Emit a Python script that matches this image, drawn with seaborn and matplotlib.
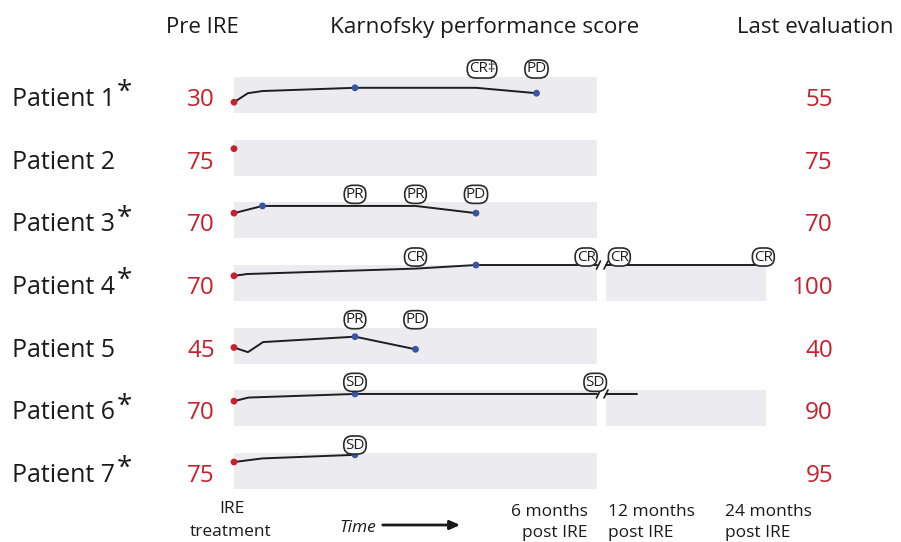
import numpy as np
import pandas as pd
import matplotlib
matplotlib.use("Agg")
import matplotlib.pyplot as plt
from matplotlib.patches import Rectangle
import seaborn as sns

# ---------------- data ----------------
patients = ["Patient 1", "Patient 2", "Patient 3", "Patient 4", "Patient 5", "Patient 6", "Patient 7"]
asterisk = [True, False, True, True, False, True, True]
pre_ire = [30, 75, 70, 70, 45, 70, 75]
last_eval = [55, 75, 70, 100, 40, 90, 95]

# Karnofsky trajectories (months after IRE, score)
p1_t, p1_s = [0, 0.23, 0.47, 2, 4, 5], [30, 55, 61, 70, 70, 55]
p2_t, p2_s = [0], [75]
p3_t, p3_s = [0, 0.47, 3, 4], [70, 90, 90, 70]
p4_t, p4_s = [0, 0.22, 3, 4, 6], [70, 75, 90, 100, 100]
p4_t2, p4_s2 = [12, 24], [100, 100]
p5_t, p5_s = [0, 0.23, 0.48, 2, 3], [45, 32, 60, 75, 40]
p6_t, p6_s = [0, 0.24, 2, 6], [70, 80, 90, 90]
p6_t2, p6_s2 = [12, 14.3], [90, 90]
p7_t, p7_s = [0, 0.47, 2], [75, 85, 95]

# evaluation (blue) points: patient index, month
eval_patient = [0, 0, 2, 2, 3, 4, 4, 5, 6]
eval_month = [2, 5, 0.47, 4, 4, 2, 3, 2, 2]

# response labels: patient index, month, label
resp_patient = [0, 0, 2, 2, 2, 3, 3, 3, 3, 4, 4, 5, 5, 6]
resp_month = [4.1, 5, 2, 3, 4, 3, 5.82, 13, 23.8, 2, 3, 2, 5.97, 2]
resp_label = ["CR‡", "PD", "PR", "PR", "PD", "CR", "CR", "CR", "CR", "PR", "PD", "SD", "SD", "SD"]

# which rows have a long-term (12-24 months) panel
long_rows = [3, 5]

# --------------- layout helpers ---------------
W, H = 901, 542
X0_PX, MONTH_PX = 234, 60.5
ROW0_PX, ROW_PX, BAND_PX = 77, 62.67, 36
BAND = BAND_PX / ROW_PX
SEG2_START = (606 - X0_PX) / MONTH_PX
SEG2_SCALE = (160 / 12) / MONTH_PX


def xdisp(m):
    m = np.asarray(m, dtype=float)
    return np.where(m <= 6.5, m, SEG2_START + (m - 12) * SEG2_SCALE)


def yrow(i, s):
    return i + (1 - np.asarray(s, dtype=float) / 100.0) * BAND


def fx(px):
    return px / W


def fy(py):
    return 1 - py / H


sns.set_theme(style="white")
plt.rcParams["font.family"] = ["Open Sans", "DejaVu Sans"]

fig = plt.figure(figsize=(W / 100, H / 100), dpi=100)
ax = fig.add_axes([0, 0, 1, 1])
ax.set_xlim(-X0_PX / MONTH_PX, (W - X0_PX) / MONTH_PX)
ax.set_ylim((H - ROW0_PX) / ROW_PX, -ROW0_PX / ROW_PX)
ax.axis("off")

RED = "#c8202c"
BLUE = "#3b55a6"
GRAY = "#ececf0"
INK = "#1a1a1a"

# bands
for i in range(len(patients)):
    ax.add_patch(Rectangle((0, i), 6, BAND, facecolor=GRAY, edgecolor="none", zorder=0))
for i in long_rows:
    x0 = float(xdisp(12))
    x1 = float(xdisp(24))
    ax.add_patch(Rectangle((x0, i), x1 - x0, BAND, facecolor=GRAY, edgecolor="none", zorder=0))

# build long table of lines
segments = [
    (0, p1_t, p1_s), (1, p2_t, p2_s), (2, p3_t, p3_s), (3, p4_t, p4_s), (3, p4_t2, p4_s2),
    (4, p5_t, p5_s), (5, p6_t, p6_s), (5, p6_t2, p6_s2), (6, p7_t, p7_s),
]
rows = []
for sid, (pi, t, s) in enumerate(segments):
    for k, (tt, ss) in enumerate(zip(t, s)):
        rows.append(dict(seg=sid, order=k, x=float(xdisp(tt)), y=float(yrow(pi, ss))))
df = pd.DataFrame(rows)
df_lines = df.groupby("seg").filter(lambda g: len(g) > 1)
sns.lineplot(data=df_lines, x="x", y="y", units="seg", estimator=None, sort=False,
             color="#1e1e1e", lw=1.4, ax=ax, zorder=2, legend=False)

# red start points
traj = {0: (p1_t, p1_s), 1: (p2_t, p2_s), 2: (p3_t, p3_s), 3: (p4_t, p4_s),
        4: (p5_t, p5_s), 5: (p6_t, p6_s), 6: (p7_t, p7_s)}
start_df = pd.DataFrame(dict(x=[0.0] * len(patients),
                             y=[float(yrow(i, pre_ire[i])) for i in range(len(patients))]))
sns.scatterplot(data=start_df, x="x", y="y", color=RED, s=24, edgecolor="none", ax=ax, zorder=3)

ev_x, ev_y = [], []
for pi, m in zip(eval_patient, eval_month):
    t, s = traj[pi]
    ev_x.append(float(xdisp(m)))
    ev_y.append(float(yrow(pi, np.interp(m, t, s))))
sns.scatterplot(x=ev_x, y=ev_y, color=BLUE, s=24, edgecolor="none", ax=ax, zorder=3)

# break marks
dxs = 2 / MONTH_PX
dys = 4 / ROW_PX
for i, sc in zip(long_rows, [100, 90]):
    yy = float(yrow(i, sc))
    for xb in [6.0 + 1.5 / MONTH_PX, SEG2_START]:
        ax.plot([xb - dxs, xb + dxs], [yy + dys, yy - dys], color="#1e1e1e", lw=1.2, zorder=3)

# response labels
LAB_OFF = 8 / ROW_PX
for pi, m, lab in zip(resp_patient, resp_month, resp_label):
    ax.text(float(xdisp(m)), pi - LAB_OFF, lab, ha="center", va="center", fontsize=11,
            color="#1e1e1e", zorder=4,
            bbox=dict(boxstyle="round,pad=0.1,rounding_size=0.55", facecolor="white",
                      edgecolor="#2a2a2a", lw=1.2))

# row text
for i, name in enumerate(patients):
    base = ROW0_PX + ROW_PX * i + 29
    fig.text(fx(12), fy(base), name, fontsize=18, color=INK, ha="left", va="baseline")
    if asterisk[i]:
        fig.text(fx(117), fy(ROW0_PX + ROW_PX * i + 2), "*", fontsize=20, color=INK,
                 ha="left", va="top")
    fig.text(fx(215), fy(base), str(pre_ire[i]), fontsize=17.5, color=RED, ha="right", va="baseline")
    fig.text(fx(833), fy(base), str(last_eval[i]), fontsize=17.5, color=RED, ha="right", va="baseline")

# headers
fig.text(fx(166), fy(33), "Pre IRE", fontsize=16, color=INK, ha="left", va="baseline")
fig.text(fx(330), fy(33), "Karnofsky performance score", fontsize=16.2, color=INK,
         ha="left", va="baseline")
fig.text(fx(737), fy(33), "Last evaluation", fontsize=16, color=INK, ha="left", va="baseline")

# bottom time labels
BF = 12.5
fig.text(fx(232), fy(513), "IRE", fontsize=BF, color=INK, ha="center", va="baseline")
fig.text(fx(231), fy(536), "treatment", fontsize=BF, color=INK, ha="center", va="baseline")
fig.text(fx(339), fy(532), "Time", fontsize=BF, style="italic", color=INK, ha="left", va="baseline")
ax.annotate("", xy=(fx(463), fy(525)), xytext=(fx(380), fy(525)), xycoords="figure fraction",
            textcoords="figure fraction",
            arrowprops=dict(arrowstyle="-|>,head_length=0.5,head_width=0.22", color=INK, lw=2))
fig.text(fx(588), fy(516), "6 months", fontsize=BF, color=INK, ha="right", va="baseline")
fig.text(fx(588), fy(537), "post IRE", fontsize=BF, color=INK, ha="right", va="baseline")
fig.text(fx(608), fy(516), "12 months", fontsize=BF, color=INK, ha="left", va="baseline")
fig.text(fx(608), fy(537), "post IRE", fontsize=BF, color=INK, ha="left", va="baseline")
fig.text(fx(725), fy(516), "24 months", fontsize=BF, color=INK, ha="left", va="baseline")
fig.text(fx(725), fy(537), "post IRE", fontsize=BF, color=INK, ha="left", va="baseline")

fig.savefig("out.png", dpi=100)
